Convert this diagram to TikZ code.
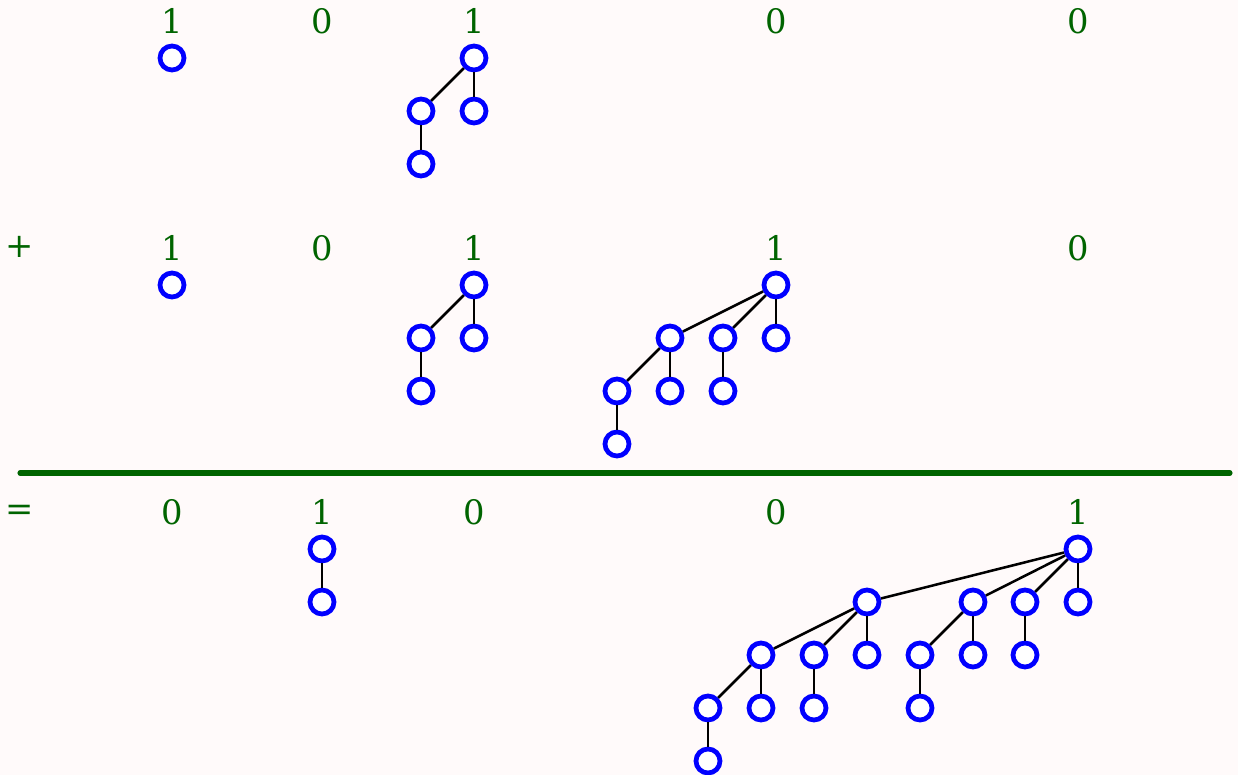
\documentclass[tikz,border=0pt]{standalone}
\usepackage{fontspec}
\setmainfont{DejaVu Serif}
\definecolor{bitgreen}{RGB}{0,100,0}
\definecolor{paper}{RGB}{255,250,250}
\tikzset{
  key/.style={circle, draw=blue, fill=white, line width=1.7pt, minimum size=3mm, inner sep=0pt},
  bit/.style={text=bitgreen, font=\fontsize{12}{14}\selectfont},
  link/.style={line width=0.9pt}
}
\begin{document}
\begin{tikzpicture}[x=0.0125cm, y=-0.0125cm]
	\fill[paper] (0,0) rectangle (1238,775);
	\useasboundingbox (0,0) rectangle (1238,775);

	% first heap
	\foreach \x/\b [count=\i] in {172/1,322/0,474/1,776/0,1078/0}
		\node[bit] (top\i) at (\x,21) {\b};
	\node[key] (t0) at (172,58) {};
	\node[key] (t2) at (474,58) {};
	\node[key] (t2a) at (421,111) {};
	\node[key] (t2b) at (474,111) {};
	\node[key] (t2c) at (421,164) {};
	\foreach \u/\v in {t2/t2a, t2/t2b, t2a/t2c}
		\draw[link] (\u) -- (\v);

	% second heap
	\node[bit] (plus) at (20,247) {+};
	\foreach \x/\b [count=\i] in {172/1,322/0,474/1,776/1,1078/0}
		\node[bit] (mid\i) at (\x,248) {\b};
	\node[key] (m0) at (172,285) {};
	\node[key] (m2) at (474,285) {};
	\node[key] (m2a) at (421,338) {};
	\node[key] (m2b) at (474,338) {};
	\node[key] (m2c) at (421,391) {};
	\node[key] (m3) at (776,285) {};
	\node[key] (m3a) at (670,338) {};
	\node[key] (m3b) at (723,338) {};
	\node[key] (m3c) at (776,338) {};
	\node[key] (m3d) at (617,391) {};
	\node[key] (m3e) at (670,391) {};
	\node[key] (m3f) at (723,391) {};
	\node[key] (m3g) at (617,444) {};
	\foreach \u/\v in {m2/m2a, m2/m2b, m2a/m2c,
			m3/m3a, m3/m3b, m3/m3c, m3a/m3d, m3a/m3e, m3b/m3f, m3d/m3g}
		\draw[link] (\u) -- (\v);

	% sum line
	\coordinate (ruleL) at (20,473);
	\coordinate (ruleR) at (1230,473);
	\draw[bitgreen, line width=1.8pt, line cap=round] (ruleL) -- (ruleR);

	% result heap
	\node[bit] (eq) at (20,513) {=};
	\foreach \x/\b [count=\i] in {172/0,322/1,474/0,776/0,1078/1}
		\node[bit] (bot\i) at (\x,512) {\b};
	\node[key] (s1) at (322,549) {};
	\node[key] (s1a) at (322,602) {};
	\node[key] (s4) at (1078,549) {};
	\node[key] (s4a) at (867,602) {};
	\node[key] (s4b) at (973,602) {};
	\node[key] (s4c) at (1025,602) {};
	\node[key] (s4d) at (1078,602) {};
	\node[key] (s4e) at (761,655) {};
	\node[key] (s4f) at (814,655) {};
	\node[key] (s4g) at (867,655) {};
	\node[key] (s4l) at (920,655) {};
	\node[key] (s4m) at (973,655) {};
	\node[key] (s4o) at (1025,655) {};
	\node[key] (s4h) at (708,708) {};
	\node[key] (s4i) at (761,708) {};
	\node[key] (s4k) at (814,708) {};
	\node[key] (s4n) at (920,708) {};
	\node[key] (s4j) at (708,761) {};
	\foreach \u/\v in {s1/s1a,
			s4/s4a, s4/s4b, s4/s4c, s4/s4d,
			s4a/s4e, s4a/s4f, s4a/s4g, s4b/s4l, s4b/s4m, s4c/s4o,
			s4e/s4h, s4e/s4i, s4f/s4k, s4l/s4n, s4h/s4j}
		\draw[link] (\u) -- (\v);
\end{tikzpicture}
\end{document}
